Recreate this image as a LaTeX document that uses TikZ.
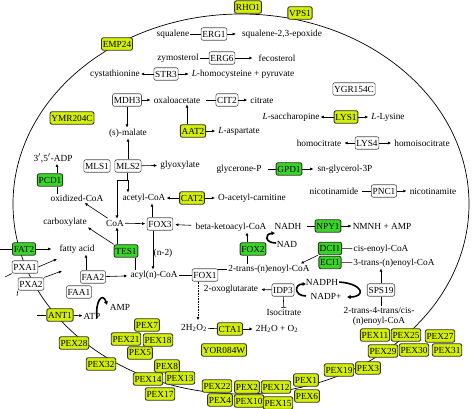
\documentclass[tikz,border=0pt]{standalone}
\usepackage{fontspec}
\setmainfont{Liberation Serif}
\usetikzlibrary{arrows.meta}
\definecolor{yelc}{RGB}{212,240,0}
\definecolor{grnc}{RGB}{56,214,36}
\begin{document}
\begin{tikzpicture}[x=1pt,y=-1pt,
  font=\fontsize{9.3}{10}\selectfont,
  box/.style={rounded corners=2pt,inner sep=1.3pt,minimum height=12.5pt},
  gw/.style={box,draw=black!70,fill=white,line width=0.6pt},
  gy/.style={box,draw=black!80,fill=yelc,line width=0.9pt},
  gg/.style={box,draw=black!80,fill=grnc,line width=0.9pt},
  lb/.style={inner sep=1pt},
  ln/.style={line width=0.6pt},
  ar/.style={ln,-{Latex[length=3.2pt,width=3pt]}},
  tb/.style={ln,-{Bar[width=5pt]}},
  cur/.style={line width=1.6pt,-{Latex[length=3.5pt,width=4.5pt]}},
]
\useasboundingbox (0,0) rectangle (472,409);
\draw[line width=0.7pt] (241,204) ellipse [x radius=228,y radius=190];

% top
\node[gy] (rho1) at (248,7) {RHO1};
\node[gy] (vps1) at (300,13) {VPS1};
\node[gy] (emp24) at (117,44) {EMP24};
\node[lb] (squal) at (173,34) {squalene};
\node[gw] (erg1) at (214,34) {ERG1};
\node[lb] (sqep) at (282,34) {squalene-2,3-epoxide};
\draw[ln] (squal) -- (erg1);
\draw[ar,shorten >=5pt] (erg1) -- (sqep);
\node[lb] (zymo) at (178,58) {zymosterol};
\node[gw] (erg6) at (222,58) {ERG6};
\node[lb] (feco) at (277,58) {fecosterol};
\draw[ln] (zymo) -- (erg6);
\draw[ar,shorten >=5pt] (erg6) -- (feco);
\node[lb] (cyst) at (115,74) {cystathionine};
\node[gw] (str3) at (166,74) {STR3};
\node[lb] (lhcy) at (243,74) {\textit{L}-homocysteine + pyruvate};
\draw[ar] (str3) -- (cyst);
\draw[ar,shorten >=2pt] (str3) -- (lhcy);

\node[gw] (mdh3) at (127,100) {MDH3};
\node[lb] (oxal) at (177,100) {oxaloacetate};
\node[gw] (cit2) at (227,100) {CIT2};
\node[lb] (citr) at (262,100) {citrate};
\draw[ar,shorten >=2pt] (mdh3) -- (oxal);
\draw[ln,shorten <=5pt] (oxal) -- (cit2);
\draw[ar,shorten >=2pt] (cit2) -- (citr);
\node[lb] (smal) at (128,133) {(s)-malate};
\draw[ar] (mdh3.south) -- (mdh3.south |- smal.north);
\node[gy] (aat2) at (193,131) {AAT2};
\node[lb] (lasp) at (239,131) {\textit{L}-aspartate};
\draw[ar] ([xshift=-6pt]aat2.north) -- ([xshift=-6pt]aat2.north |- oxal.south);
\draw[ar,shorten >=2pt] (aat2) -- (lasp);

\node[gw] (ygr) at (354,89) {YGR154C};
\node[gy] (ymr) at (72,118) {YMR204C};

\node[gy] (lys1) at (346,117) {LYS1};
\node[lb] (lsac) at (291,117) {\textit{L}-saccharopine};
\node[lb] (llys) at (388,117) {\textit{L}-Lysine};
\draw[ar] (lys1) -- (lsac);
\draw[ar,shorten >=2pt] (lys1) -- (llys);
\node[gw] (lys4) at (367,143) {LYS4};
\node[lb] (hcit) at (319,143) {homocitrate};
\node[lb] (hisc) at (422,143) {homoisocitrate};
\draw[ar,shorten >=2pt] (lys4) -- (hcit);
\draw[ar,shorten >=2pt] (lys4) -- (hisc);
\node[gg] (gpd1) at (289,169) {GPD1};
\node[lb] (glyp) at (239,169) {glycerone-P};
\node[lb] (sng) at (345,169) {sn-glycerol-3P};
\draw[ln,shorten <=5pt] (glyp) -- (gpd1);
\draw[ar,shorten >=3pt] (gpd1) -- (sng);
\node[gw] (pnc1) at (384,191) {PNC1};
\node[lb] (nicd) at (334,191) {nicotinamide};
\node[lb] (nict) at (433,191) {nicotinamite};
\draw[ln,shorten <=3pt] (nicd) -- (pnc1);
\draw[ar,shorten >=2pt] (pnc1) -- (nict);

% left block
\node[lb] (adp) at (53,158) {3$'$,5$'$-ADP};
\node[gg] (pcd1) at (50,180) {PCD1};
\node[lb] (oxcoa) at (77,198) {oxidized-CoA};
\draw[ln] ([xshift=7pt]pcd1.south) -- ([xshift=7pt]pcd1.south |- oxcoa.north);
\draw[ar] ([xshift=7pt]pcd1.north) -- ([xshift=7pt]pcd1.north |- adp.south);
\node[gw] (mls1) at (97,166) {MLS1};
\node[gw] (mls2) at (128,166) {MLS2};
\node[lb] (glyx) at (180,165) {glyoxylate};
\draw[ar,shorten >=2pt] (mls2) -- (glyx);
\draw[ar] (mls2.north) -- (mls2.north |- smal.south);
\node[lb] (acoa) at (144,198) {acetyl-CoA};
\node[gy] (cat2) at (192,198) {CAT2};
\node[lb] (oacc) at (252,198) {O-acetyl-carnitine};
\draw[ar] (cat2) -- (acoa);
\draw[ar,shorten >=2pt] (cat2) -- (oacc);
\node[lb] (coa) at (115,223) {CoA};
\node[lb] (carb) at (65,222) {carboxylate};
\coordinate (j1) at (128,180);
\coordinate (j2) at (117,180);
\draw[ln] ([xshift=-1pt]mls2.south) |- (j2);
\draw[ar] (j1) -- (j1 |- acoa.north);
\draw[ar] (j2) -- (j2 |- coa.north);
\draw[ar,shorten <=1pt,shorten >=1pt] (coa) -- (oxcoa);
\node[gg] (tes1) at (126,251) {TES1};
\draw[ar] (tes1.north west) -- (carb.south east);
\draw[ar] ([xshift=-9pt]tes1.north) -- ([xshift=-9pt]tes1.north |- coa.south);
\node[lb] (acyl) at (154,275) {acyl(n)-CoA};
\draw[ln] ([xshift=9pt]tes1.south) -- ([xshift=9pt]tes1.south |- acyl.north);
\node[gw] (fox3) at (160,224) {FOX3};
\draw[ar,shorten >=1.5pt] (coa) -- (fox3);
\draw[ar] ([xshift=-8pt]fox3.north) -- ([xshift=-8pt]fox3.north |- acoa.south);
\draw[ar] ([xshift=-7pt]fox3.south) -- ([xshift=-7pt]fox3.south |- acyl.north);
\node[lb] (n2) at (163,253) {(n-2)};
\node[lb] (bket) at (231,227) {beta-ketoacyl-CoA};
\draw[ar,shorten <=3pt,shorten >=2pt] (bket) -- (fox3);

\node[lb] (nadh) at (288,226) {NADH};
\node[gg] (npy1) at (328,226) {NPY1};
\node[lb] (nmnh) at (382,226) {NMNH + AMP};
\draw[ln,shorten <=4pt] (nadh) -- (npy1);
\draw[ar] (npy1) -- (nmnh);
\node[lb] (nad) at (287,244) {NAD};
\draw[cur] (276,243) .. controls (265,243) and (264,234) .. (275,233);

\node[lb] (tren) at (269,269) {2-trans-(n)enoyl-CoA};
\node[gg] (fox2) at (253,249) {FOX2};
\draw[ar] ([xshift=-6pt]fox2.north) -- ([xshift=-6pt]fox2.north |- bket.south);
\draw[ln] ([xshift=-6pt]fox2.south) -- ([xshift=-6pt]fox2.south |- tren.north);
\node[gg] (dci1) at (330,248.5) {DCI1};
\node[gg] (eci1) at (330,262.5) {ECI1};
\node[lb] (cisen) at (381,249) {cis-enoyl-CoA};
\node[lb] (tren3) at (394,263) {3-trans-(n)enoyl-CoA};
\draw[ln] (dci1) -- (cisen);
\draw[ln] (eci1) -- (tren3);
\draw[ar] (dci1.south west) -- ([xshift=-10pt]tren.north east);

\node[gw] (fox1) at (205,275) {FOX1};
\draw[ln] (acyl) -- (fox1);
\draw[ln] (tren.west -| fox1.east) -- (tren.west);
\node[lb] (h2o2) at (194,328) {2H\textsubscript{2}O\textsubscript{2}};
\draw[ar,densely dotted,shorten >=3pt] ([xshift=-7pt]fox1.south) -- ([xshift=-7pt]fox1.south |- h2o2.north);

\node[gw] (faa2) at (93,277) {FAA2};
\node[gw] (faa1) at (79,292) {FAA1};
\node[lb] (fatac) at (77,249) {fatty acid};
\draw[ar,shorten >=2pt] (faa2) -- (acyl);
\draw[ar] ([xshift=-7pt]faa2.north) -- ([xshift=-7pt]faa2.north |- fatac.south);
\node[lb] (amp) at (120,307) {AMP};
\draw[cur] (97,318) .. controls (95,300) and (103,292) .. (107,305);
\node[gy] (ant1) at (60,315) {ANT1};
\node[lb] (atp) at (92,316) {ATP};
\coordinate (antin) at (37,315);
\draw[ln] (antin) -- (ant1);
\draw[ar] (ant1) -- (atp);
\node[gg] (fat2) at (24,249) {FAT2};
\coordinate (fatin) at (0,249);
\draw[ln] (fatin) -- (fat2);
\draw[ar,shorten >=7pt] (fat2) -- (fatac);
\node[gw] (pxa1) at (25,267) {PXA1};
\node[gw] (pxa2) at (31,284) {PXA2};
\coordinate (p1t) at (57,259);
\coordinate (p2t) at (62,271);
\coordinate (p1s) at (5,277);
\coordinate (p2s) at (17,296);
\draw[ar] (pxa1.east) -- (p1t);
\draw[ar] (pxa2.north east) -- (p2t);
\draw[ln] (p1s) -- (pxa1.south west);
\draw[ln] (p2s) -- (pxa2.south west);

\node[lb] (oxog) at (231,289) {2-oxoglutarate};
\node[gw] (idp3) at (283,290) {IDP3};
\node[lb] (isoc) at (284,312) {Isocitrate};
\draw[ar,shorten >=2pt] (idp3) -- (oxog);
\draw[tb] (idp3) -- (isoc);
\node[lb] (nadph) at (322,282) {NADPH};
\node[lb] (nadpp) at (326,296) {NADP+};
\draw[cur] (306,296) .. controls (294,296) and (294,284) .. (306,284);
\draw[cur] (nadph.east) .. controls (364,284) and (366,297) .. (347,297);
\node[gw] (sps19) at (381,290) {SPS19};
\draw[ar] (sps19.north) -- (sps19.north |- tren3.south);
\node[lb] (t4a) at (379,310) {2-trans-4-trans/cis-};
\node[lb] (t4b) at (379,321) {(n)enoyl-CoA};
\draw[ln] (sps19.south) -- (sps19.south |- t4a.north);

\node[gy] (cta1) at (230,329) {CTA1};
\node[lb] (h2o) at (277,329) {2H\textsubscript{2}O + O\textsubscript{2}};
\draw[ln] (h2o2) -- (cta1);
\draw[ar,shorten >=2pt] (cta1) -- (h2o);
\node[gy] (yor) at (224,350) {YOR084W};

% PEX
\node[gy] (pex28) at (74,343) {PEX28};
\node[gy] (pex32) at (101,364) {PEX32};
\node[gy] (pex7) at (147,325) {PEX7};
\node[gy] (pex21) at (126,339) {PEX21};
\node[gy] (pex18) at (158,340) {PEX18};
\node[gy] (pex5) at (140,353) {PEX5};
\node[gy] (pex8) at (167,366) {PEX8};
\node[gy] (pex14) at (148,379) {PEX14};
\node[gy] (pex13) at (180,378) {PEX13};
\node[gy] (pex17) at (160,394) {PEX17};
\node[gy] (pex22) at (217,386) {PEX22};
\node[gy] (pex4) at (220,400) {PEX4};
\node[gy] (pex2) at (247,387) {PEX2};
\node[gy] (pex10) at (249,401) {PEX10};
\node[gy] (pex12) at (276,387) {PEX12};
\node[gy] (pex15) at (278,403) {PEX15};
\node[gy] (pex1) at (306,380) {PEX1};
\node[gy] (pex6) at (307,396) {PEX6};
\node[gy] (pex19) at (339,370) {PEX19};
\node[gy] (pex3) at (368,368) {PEX3};
\node[gy] (pex11) at (375,335) {PEX11};
\node[gy] (pex25) at (406,335) {PEX25};
\node[gy] (pex27) at (440,336) {PEX27};
\node[gy] (pex29) at (383,351) {PEX29};
\node[gy] (pex30) at (414,350) {PEX30};
\node[gy] (pex31) at (447,350) {PEX31};
\end{tikzpicture}
\end{document}
